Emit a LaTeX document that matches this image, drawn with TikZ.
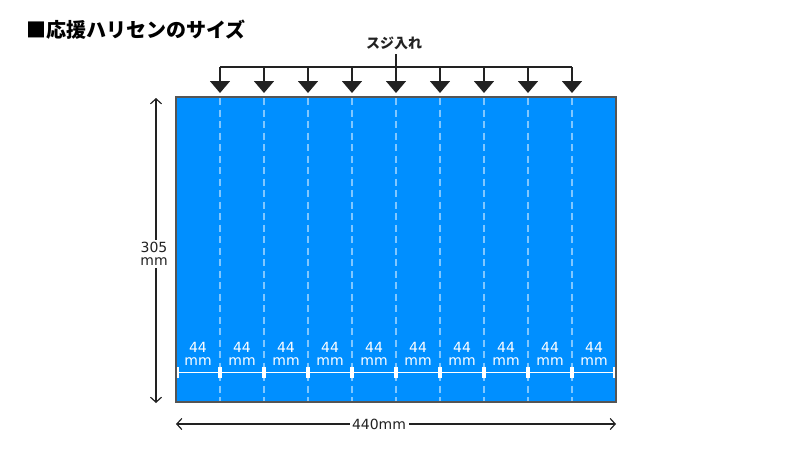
\documentclass[tikz,border=0pt]{standalone}
\usepackage{fontspec}
\setmainfont{DejaVu Sans}
\newfontfamily\jpfont{Noto Sans CJK JP}
\usetikzlibrary{arrows.meta}
\definecolor{sheetblue}{RGB}{0,143,255}
\definecolor{sheetedge}{RGB}{85,85,85}
\definecolor{creaseblue}{RGB}{128,199,255}
\definecolor{ink}{RGB}{34,34,34}
\tikzset{
  sheetbox/.style={draw=sheetedge, line width=1.3pt, fill=sheetblue, inner sep=0pt, outer sep=0pt,
    minimum width=440pt, minimum height=305pt},
  crease/.style={draw=creaseblue, line width=1.8pt, dash pattern=on 7pt off 4.5pt},
  feedline/.style={draw=ink, line width=1.6pt},
  feedarrow/.style={feedline, -{Triangle[length=12pt,width=20pt]}},
  dimline/.style={draw=ink, line width=1.2pt, {Straight Barb[length=5pt,width=11pt]}-{Straight Barb[length=5pt,width=11pt]}},
  dimtext/.style={fill=white, text=ink, font=\fontsize{14}{12.5}\selectfont, align=center, inner sep=2.5pt},
  striptext/.style={text=white, font=\fontsize{14}{12.5}\selectfont, align=center, inner sep=0pt},
  titletext/.style={text=black, font=\jpfont\bfseries\fontsize{20}{24}\selectfont, anchor=west, inner sep=0pt},
  creaselabel/.style={text=ink, font=\jpfont\bfseries\fontsize{14}{16}\selectfont, inner sep=0pt}
}
\begin{document}
\begin{tikzpicture}[x=1pt,y=-1pt]
\useasboundingbox (0,0) rectangle (790,450);
\node[titletext] (title) at (26,29.5) {■応援ハリセンのサイズ};
\node[sheetbox] (sheet) at (396,249.5) {};
% creases
\foreach \k in {1,...,9}{
  \pgfmathsetmacro{\xx}{176+44*\k}
  \coordinate (ctop\k) at (\xx,98);
  \coordinate (cbot\k) at (\xx,401);
  \draw[crease] (ctop\k) -- (cbot\k);
}
% white measuring line with ticks
\coordinate (mL) at (177,372.5);
\coordinate (mR) at (615,372.5);
\draw[white, line width=1.8pt] (mL) -- (mR);
\fill[white] (176.8,367) rectangle (178.8,378);
\fill[white] (613.2,367) rectangle (615.2,378);
\foreach \k in {1,...,9}{
  \pgfmathsetmacro{\xx}{176+44*\k}
  \fill[white] (\xx-1.6,367) rectangle (\xx+1.6,378);
}
% strip labels
\foreach \k in {0,...,9}{
  \pgfmathsetmacro{\xx}{198+44*\k}
  \node[striptext] (w\k) at (\xx,354) {44\\mm};
}
% crease arrows
\node[creaselabel] (clabel) at (394,43.5) {スジ入れ};
\coordinate (barL) at (220,67);
\coordinate (barR) at (572,67);
\coordinate (barC) at (396,67);
\draw[feedline] (barL) -- (barR);
\draw[feedline] (clabel.south -| barC) ++(0,4) -- (barC);
\foreach \k in {1,...,9}{
  \pgfmathsetmacro{\xx}{176+44*\k}
  \coordinate (abar\k) at (\xx,67);
  \coordinate (atip\k) at (\xx,93);
  \draw[feedarrow] (abar\k) -- (atip\k);
}
% height dimension
\coordinate (hT) at (156,98);
\coordinate (hB) at (156,403);
\draw[dimline] (hT) -- (hB);
\node[dimtext] (hlabel) at (154,254) {305\\mm};
% width dimension
\coordinate (wL) at (176,424);
\coordinate (wR) at (616,424);
\draw[dimline] (wL) -- (wR);
\node[dimtext] (wlabel) at (379,424) {440mm};
\end{tikzpicture}
\end{document}
